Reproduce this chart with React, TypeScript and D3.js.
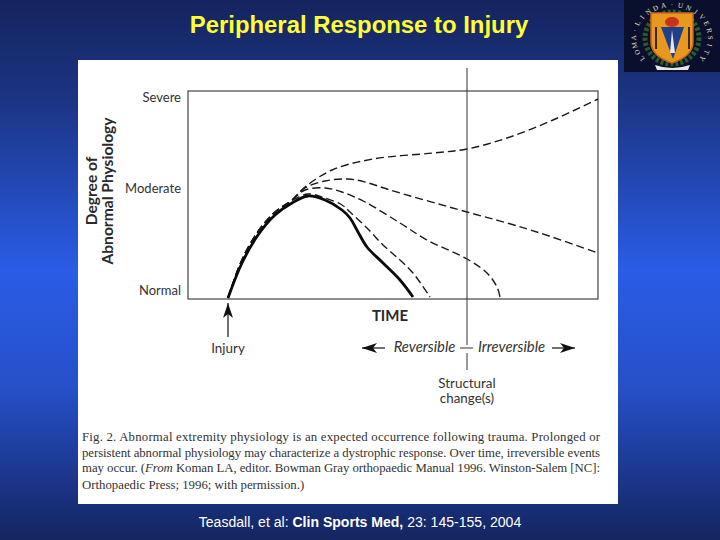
import React, { useRef, useEffect } from 'react';
import { select, line, curveCatmullRom, axisLeft, scaleLinear } from 'd3';

// values: time and severity in figure units
const rise = [[40, 1], [53, 37], [69, 66], [86, 86], [103, 98]];
const solidCurve = [[40, 1], [54, 36], [70, 64], [87, 84], [104, 96], [120, 103], [137, 99], [154, 89], [162, 81], [170, 67], [179, 52], [195, 36], [212, 19], [225, 2]];
const worsening = [[117, 112], [144, 129], [185, 140], [245, 146], [279, 150], [319, 161], [365, 179], [410, 200]];
const slowDecline = [[117, 111], [137, 118], [160, 120], [177, 117], [202, 109], [279, 87], [319, 76], [352, 66], [410, 46]];
const lateRecovery = [[117, 109], [137, 111], [154, 107], [177, 97], [212, 76], [239, 59], [279, 40], [299, 26], [309, 12], [312, 2]];
const earlyRecovery = [[120, 105], [137, 101], [154, 94], [162, 87], [179, 71], [195, 54], [212, 39], [225, 26], [242, 2]];
const levelLabels = ['Severe', 'Moderate', 'Normal'];
const levelValues = [202, 111, 9];
const structuralTime = 279;
const injuryTime = 41;
const captionLines = [
  'Fig. 2. Abnormal extremity physiology is an expected occurrence following trauma. Prolonged or',
  'persistent abnormal physiology may characterize a dystrophic response. Over time, irreversible events',
];
const sealLetters = 'LOMA·LINDA·UNIVERSITY'.split('');

const x = scaleLinear().domain([0, 410]).range([188, 598]);
const y = scaleLinear().domain([0, 208]).range([299, 91]);
const curve = line<number[]>()
  .x((d) => x(d[0]))
  .y((d) => y(d[1]))
  .curve(curveCatmullRom);
const sealAngle = scaleLinear().domain([0, sealLetters.length - 1]).range([-128, 128]);

const dashed = [worsening, slowDecline, lateRecovery, earlyRecovery];
const chartFont = 'Lato, "Open Sans", sans-serif';
const ink = '#2a2a2a';

function App() {
  const axisRef: any = useRef();

  useEffect(() => {
    const axis: any = axisLeft(y)
      .tickValues(levelValues)
      .tickFormat((d: any) => levelLabels[levelValues.indexOf(d)])
      .tickSize(0)
      .tickPadding(7);
    const g = select(axisRef.current);
    g.call(axis);
    g.select('.domain').remove();
    g.selectAll('text').attr('font-family', chartFont).attr('font-size', 13).attr('fill', '#333');
  }, []);

  const sx = x(structuralTime);
  const ix = x(injuryTime);

  return (
    <svg width={720} height={540} style={{ position: 'absolute', left: 0, top: 0 }}>
      <defs>
        <linearGradient id="bg" x1="0" y1="0" x2="0" y2="1">
          <stop offset="0" stopColor="#15245f" />
          <stop offset="0.18" stopColor="#1b3482" />
          <stop offset="0.5" stopColor="#2a5ce6" />
          <stop offset="0.72" stopColor="#2650c8" />
          <stop offset="0.9" stopColor="#1a3385" />
          <stop offset="1" stopColor="#14265f" />
        </linearGradient>
        <marker id="head" markerWidth="16" markerHeight="10" refX="15" refY="5" orient="auto" markerUnits="userSpaceOnUse">
          <path d="M0,0 L15,5 L0,10 L4,5 Z" fill="#111" />
        </marker>
      </defs>
      <rect width={720} height={540} fill="url(#bg)" />

      <text x={359} y={33} textAnchor="middle" fontFamily="Liberation Sans, Arial, sans-serif" fontWeight="bold" fontSize={23.9} fill="#ffff33">
        Peripheral Response to Injury
      </text>

      <rect x={78} y={60} width={540} height={444} fill="#fff" />
      <rect x={x(0)} y={y(208)} width={410} height={208} fill="none" stroke="#444" strokeWidth={1.2} />

      {dashed.map((s, i) => (
        <path key={i} d={curve([...rise, ...s]) as string} fill="none" stroke="#1a1a1a" strokeWidth={1.4} strokeDasharray="8 4" />
      ))}
      <path d={curve(solidCurve) as string} fill="none" stroke="#0a0a0a" strokeWidth={2.8} />

      <g ref={axisRef} transform="translate(188,0)" />

      <g fontFamily={chartFont} fontWeight="bold" fontSize={15.6} fill={ink} textAnchor="middle">
        <text transform="translate(97,191) rotate(-90)">Degree of</text>
        <text transform="translate(113,191) rotate(-90)">Abnormal Physiology</text>
      </g>

      <line x1={sx} x2={sx} y1={68} y2={345} stroke="#333" />
      <line x1={sx} x2={sx} y1={353} y2={370} stroke="#333" />
      <line x1={sx - 7} x2={sx + 6} y1={348} y2={348} stroke="#333" />
      <line x1={ix - 1} x2={ix - 1} y1={337} y2={303} stroke="#111" strokeWidth={1.2} markerEnd="url(#head)" />
      <line x1={385} x2={362} y1={348} y2={348} stroke="#111" strokeWidth={1.2} markerEnd="url(#head)" />
      <line x1={552} x2={575} y1={348} y2={348} stroke="#111" strokeWidth={1.2} markerEnd="url(#head)" />

      <g fontFamily={chartFont} fontSize={13.4} fill="#333" textAnchor="middle">
        <text x={228} y={353}>Injury</text>
        <text x={467} y={388}>Structural</text>
        <text x={467} y={403}>change(s)</text>
        <text x={424.5} y={352} fontStyle="italic" fontSize={14.8}>Reversible</text>
        <text x={511.5} y={352} fontStyle="italic" fontSize={14.8}>Irreversible</text>
        <text x={390} y={321} fontWeight="bold" fontSize={15} fill={ink}>TIME</text>
      </g>

      <g fontFamily="Liberation Serif, serif" fontSize={12.8} fill="#333">
        <text x={82} y={441} textLength={518} lengthAdjust="spacing">{captionLines[0]}</text>
        <text x={82} y={457} textLength={518} lengthAdjust="spacing">{captionLines[1]}</text>
        <text x={82} y={472} textLength={518} lengthAdjust="spacing">
          may occur. (<tspan fontStyle="italic">From</tspan> Koman LA, editor. Bowman Gray orthopaedic Manual 1996. Winston-Salem [NC]:
        </text>
        <text x={82} y={489}>Orthopaedic Press; 1996; with permission.)</text>
      </g>

      <text x={360} y={527} textAnchor="middle" fontFamily="Liberation Sans, Arial, sans-serif" fontSize={14.05} fill="#fff">
        Teasdall, et al: <tspan fontWeight="bold">Clin Sports Med,</tspan> 23: 145-155, 2004
      </text>

      {/* university seal */}
      <rect x={624} y={0} width={96} height={72} fill="#0b0f2e" />
      <ellipse cx={672} cy={38} rx={27} ry={26} fill="none" stroke="#2a5a2a" strokeWidth={5} strokeDasharray="3 2" />
      <path d="M651,13 H693 V42 Q693,56 672,63 Q651,56 651,42 Z" fill="#e8981e" stroke="#c9661a" strokeWidth={1.5} />
      <path d="M661,27 H684 L673,59 Z" fill="#1f3f8a" />
      <path d="M672,30 L675,53 H670 Z" fill="#e8e8e8" />
      <ellipse cx={672} cy={22} rx={7} ry={5} fill="#c8321e" />
      <rect x={655} y={27} width={2} height={22} fill="#3a2a10" />
      <rect x={688} y={27} width={2} height={22} fill="#3a2a10" />
      <path d="M655,65 Q672,71 690,65 L688,70 H657 Z" fill="#e8e8e0" />
      <g fontFamily="Liberation Serif, serif" fontSize={7} fill="#e8e0c0" textAnchor="middle">
        {sealLetters.map((c, i) => {
          const a = (sealAngle(i) * Math.PI) / 180;
          return (
            <text key={i} transform={`translate(${672 + 36 * Math.sin(a)},${38 - 31 * Math.cos(a)}) rotate(${sealAngle(i)})`}>{c}</text>
          );
        })}
      </g>
    </svg>
  );
}

export default App;
